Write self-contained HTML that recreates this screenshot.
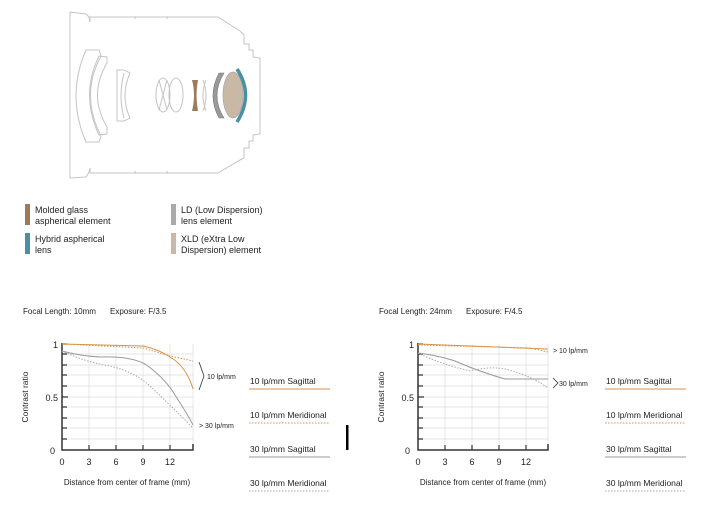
<!DOCTYPE html>
<html><head><meta charset="utf-8"><style>
html,body{margin:0;padding:0;background:#fff;width:703px;height:520px;overflow:hidden}
svg{display:block}
text{font-family:"Liberation Sans",sans-serif;fill:#222}
</style></head><body>
<svg width="703" height="520" viewBox="0 0 703 520">
<g fill="none" stroke="#c4c4c4" stroke-width="1">
<path d="M70,12 L86,14 L89,17 L90,22 L90,17 L218,17 L240,31 L243,34 L244,35 L244,44 L249,44 L249,50 L253,50 L253,57 L260,58 L260,134 L253,135 L253,141 L249,141 L249,148 L244,148 L244,158 L240,160 L218,173 L90,173 L90,168 L89,172 L86,177 L70,178 Z"/>
<path d="M135,17 L135,19 M167,17 L167,19 M135,173 L135,171 M167,173 L167,171"/>
<path d="M86,50 L99,50 L101,56 Q80,95 101,136 L99,142 L86,142 Q66,96 86,50 Z"/>
<path d="M99,56 L107,57 L107,63 Q88,95 107,127 L107,134 L99,135 Q80,95 99,56 Z"/>
<path d="M117,70 L124,70 L130,73 Q120,96 130,118 L124,121 L117,121 Z"/>
<path d="M124,73 Q118,96 124,118"/>
<ellipse cx="163" cy="95" rx="7" ry="17"/>
<ellipse cx="176" cy="95" rx="7" ry="17"/>
<path d="M159,80 L167,110 M167,80 L159,110"/>
<path d="M203,80 Q209,95 203,111 M206,80 Q200,95 206,111"/>
</g>
<path d="M192,80 L198,80 Q195,95 198,111 L192,111 Q196,95 192,80 Z" fill="#9a7b5e"/>
<path d="M224,73 Q210,96 224,118 L219,118 Q207,96 219,73 Z" fill="#9a9a9a" stroke="#777" stroke-width="0.6"/>
<ellipse cx="233" cy="95" rx="10" ry="23" fill="#c9b8a6" stroke="#aaa" stroke-width="0.8"/>
<path d="M237,69 Q254,95 237,122" fill="none" stroke="#4b8fa3" stroke-width="3.5"/>
<rect x="25" y="204" width="5" height="21" fill="#9a7b5e"/>
<rect x="25" y="233" width="5" height="21" fill="#4b8fa3"/>
<rect x="171" y="204" width="5" height="21" fill="#aaa"/>
<rect x="171" y="233" width="5" height="21" fill="#c9b8a6"/>
<g font-size="9">
<text x="35" y="213">Molded glass</text><text x="35" y="224">aspherical element</text>
<text x="35" y="242">Hybrid aspherical</text><text x="35" y="253">lens</text>
<text x="181" y="213">LD (Low Dispersion)</text><text x="181" y="224">lens element</text>
<text x="181" y="242">XLD (eXtra Low</text><text x="181" y="253">Dispersion) element</text>
</g>
<g font-size="8">
<text x="23" y="314">Focal Length: 10mm</text><text x="110" y="314">Exposure: F/3.5</text>
<text x="379" y="314">Focal Length: 24mm</text><text x="466" y="314">Exposure: F/4.5</text>
</g>
<g>
<g stroke="#ddd" stroke-width="0.7">
<path d="M62,354H193M62,365H193M62,375H193M62,386H193M62,397H193M62,407H193M62,418H193M62,428H193M62,439H193"/>
<path d="M89,344V450M116,344V450M143,344V450M170,344V450M193,344V450"/>
</g>
<path d="M62,343V450H193V444" fill="none" stroke="#333" stroke-width="1.5"/>
<g stroke="#333" stroke-width="1.2"><path d="M62,354h5M62,365h5M62,375h5M62,386h5M62,397h6M62,407h5M62,418h5M62,428h5M62,439h5M62,344h5M89,450v-5M116,450v-5M143,450v-5M170,450v-5"/></g>
<g fill="none" stroke-width="1">
<path d="M62,344 L143,346 Q160,350 170,357 Q186,366 193,389" stroke="#d4934a"/>
<path d="M62,344 L143,348 L170,356 L193,361" stroke="#d4934a" stroke-dasharray="1.5,1.5"/>
<path d="M62,351 Q80,356 100,357 Q130,356 145,364 Q165,378 175,395 Q188,415 193,425" stroke="#999"/>
<path d="M62,351 Q85,362 110,366 Q135,372 150,386 Q170,405 193,428" stroke="#aaa" stroke-dasharray="1.5,1.5"/>
</g>
<g font-size="9"><text x="58" y="348" text-anchor="end">1</text><text x="58" y="401" text-anchor="end">0.5</text><text x="55" y="454" text-anchor="end">0</text>
<text x="62" y="465" text-anchor="middle">0</text><text x="89" y="465" text-anchor="middle">3</text><text x="116" y="465" text-anchor="middle">6</text><text x="143" y="465" text-anchor="middle">9</text><text x="170" y="465" text-anchor="middle">12</text></g>
<text x="28" y="397" font-size="8.5" transform="rotate(-90 28 397)" text-anchor="middle">Contrast ratio</text>
<text x="127" y="485" font-size="8" text-anchor="middle">Distance from center of frame (mm)</text>
</g>
<path d="M199,362 L204,376 L199,390" fill="none" stroke="#333" stroke-width="0.8"/>
<g font-size="7"><text x="207" y="379">10 lp/mm</text><text x="199" y="428">&gt; 30 lp/mm</text></g>
<rect x="346" y="425" width="2.5" height="25" fill="#000"/>
<g>
<g stroke="#ddd" stroke-width="0.7">
<path d="M418,354H548M418,365H548M418,375H548M418,386H548M418,397H548M418,407H548M418,418H548M418,428H548M418,439H548"/>
<path d="M445,344V450M472,344V450M499,344V450M526,344V450M548,344V450"/>
</g>
<path d="M418,343V450H548V444" fill="none" stroke="#333" stroke-width="1.5"/>
<g stroke="#333" stroke-width="1.2"><path d="M418,354h5M418,365h5M418,375h5M418,386h5M418,397h6M418,407h5M418,418h5M418,428h5M418,439h5M418,344h5M445,450v-5M472,450v-5M499,450v-5M526,450v-5"/></g>
<g fill="none" stroke-width="1">
<path d="M418,344 L548,349" stroke="#d4934a"/>
<path d="M418,345 L530,348 L548,352" stroke="#d4934a" stroke-dasharray="1.5,1.5"/>
<path d="M418,353 Q440,356 455,361 Q480,372 505,379 L548,379" stroke="#999"/>
<path d="M418,353 Q440,364 470,371 Q490,366 505,369 Q530,375 548,388" stroke="#aaa" stroke-dasharray="1.5,1.5"/>
</g>
<g font-size="9"><text x="414" y="348" text-anchor="end">1</text><text x="414" y="401" text-anchor="end">0.5</text><text x="410" y="454" text-anchor="end">0</text>
<text x="418" y="465" text-anchor="middle">0</text><text x="445" y="465" text-anchor="middle">3</text><text x="472" y="465" text-anchor="middle">6</text><text x="499" y="465" text-anchor="middle">9</text><text x="526" y="465" text-anchor="middle">12</text></g>
<text x="384" y="397" font-size="8.5" transform="rotate(-90 384 397)" text-anchor="middle">Contrast ratio</text>
<text x="483" y="485" font-size="8" text-anchor="middle">Distance from center of frame (mm)</text>
</g>
<g font-size="7"><text x="553" y="353">&gt; 10 lp/mm</text></g>
<path d="M553,378 L558,383 L553,388" fill="none" stroke="#333" stroke-width="0.8"/>
<text x="559" y="386" font-size="7">30 lp/mm</text>
<g font-size="8.5">
<text x="250" y="384">10 lp/mm Sagittal</text>
<text x="250" y="418">10 lp/mm Meridional</text>
<text x="250" y="452">30 lp/mm Sagittal</text>
<text x="250" y="486">30 lp/mm Meridional</text>
<text x="606" y="384">10 lp/mm Sagittal</text>
<text x="606" y="418">10 lp/mm Meridional</text>
<text x="606" y="452">30 lp/mm Sagittal</text>
<text x="606" y="486">30 lp/mm Meridional</text>
</g>
<g fill="none" stroke-width="1">
<path d="M249,389H330M605,389H686" stroke="#d4934a"/>
<path d="M249,423H330M605,423H686" stroke="#d4934a" stroke-dasharray="1.5,1.5"/>
<path d="M249,457H330M605,457H686" stroke="#999"/>
<path d="M249,491H330M605,491H686" stroke="#aaa" stroke-dasharray="1.5,1.5"/>
</g>
</svg>
</body></html>
